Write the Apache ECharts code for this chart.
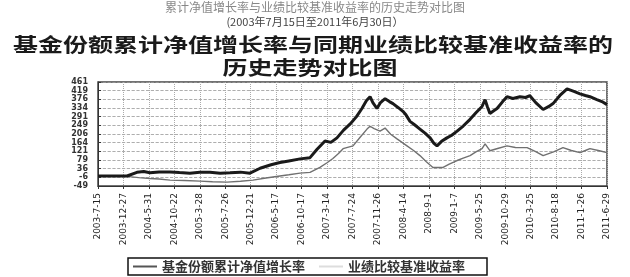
<!DOCTYPE html>
<html>
<head>
<meta charset="utf-8">
<script src="https://cdn.jsdelivr.net/npm/echarts@6/dist/echarts.min.js"></script>
<style>
  html, body { margin: 0; padding: 0; background: #fff; }
  #chart { width: 630px; height: 277px; }
</style>
</head>
<body>
<div id="chart"></div>
<script>
// ==================== 数据 ====================
// x 轴刻度（日期），等间距 21 个
const xLabels = [
  '2003-7-15', '2003-12-27', '2004-5-31', '2004-10-22', '2005-3-28',
  '2005-7-26', '2005-12-21', '2006-5-17', '2006-10-17', '2007-3-14',
  '2007-7-24', '2007-11-26', '2008-4-14', '2008-9-1', '2009-1-7',
  '2009-5-25', '2009-10-29', '2010-3-25', '2010-8-18', '2011-1-26',
  '2011-6-29'
]
// y 轴刻度（自下而上）
const yLabels = ['-49', '-6', '36', '79', '121', '164', '206', '249', '291', '334', '376', '419', '461']
const Y_BASE = 49      // 最低刻度 -49，对应坐标 0
const Y_STEP = 42.5

// 位置以 x 刻度序号计（0 ~ 20），数值单位 %
const fundPos = [0, 1.14, 1.53, 1.8, 2.04, 2.4, 2.83, 3.2, 3.61, 4.0, 4.4, 4.8, 5.19, 5.6, 5.97, 6.37,
  6.8, 7.15, 7.5, 7.94, 8.33, 8.6, 8.92, 9.15, 9.39, 9.65, 9.9, 10.15, 10.37, 10.55, 10.69, 10.8, 10.96,
  11.1, 11.28, 11.45, 11.59, 11.8, 11.98, 12.1, 12.26, 12.45, 12.65, 12.85, 13.05, 13.2, 13.32, 13.5,
  13.71, 13.9, 14.11, 14.35, 14.62, 14.85, 15.09, 15.21, 15.3, 15.4, 15.55, 15.68, 15.9, 16.07, 16.3,
  16.58, 16.8, 16.97, 17.2, 17.49, 17.7, 17.88, 18.15, 18.43, 18.7, 18.94, 19.15, 19.33, 19.6, 19.8, 20]
const fundValues = [0, 0, 18, 22, 16, 20, 20, 17, 14, 19, 18, 14, 16, 19, 14, 38,
  55, 66, 74, 84, 90, 130, 172, 165, 187, 225, 254, 290, 331, 370, 389, 360, 331,
  360, 379, 365, 355, 335, 317, 300, 268, 250, 230, 210, 187, 160, 148, 170,
  187, 200, 220, 245, 278, 310, 341, 374, 340, 307, 320, 331, 365, 389, 380,
  389, 385, 394, 360, 326, 340, 355, 395, 427, 415, 403, 395, 389, 375, 365, 350]

const benchPos = [0, 1.14, 1.6, 2.04, 2.4, 2.83, 3.4, 4.01, 4.5, 5.07, 5.6, 6.09, 6.6, 7.15, 7.5, 7.94,
  8.33, 8.72, 9.0, 9.23, 9.45, 9.63, 10.02, 10.3, 10.57, 10.69, 10.85, 11.08, 11.28, 11.5, 11.75, 12.14,
  12.4, 12.65, 12.9, 13.16, 13.56, 13.8, 14.11, 14.35, 14.62, 14.85, 15.09, 15.21, 15.4, 15.7, 16.07,
  16.4, 16.86, 17.2, 17.49, 17.9, 18.27, 18.6, 18.94, 19.15, 19.33, 19.7, 20]
const benchValues = [0, -2, -8, -12, -15, -20, -22, -25, -28, -30, -26, -20, -10, 0, 6, 14,
  18, 42, 65, 86, 110, 134, 148, 190, 230, 244, 232, 220, 235, 205, 182, 148,
  125, 100, 70, 42, 42, 58, 76, 88, 100, 118, 134, 158, 124, 135, 148,
  140, 139, 120, 100, 118, 139, 125, 115, 125, 134, 124, 115]

const seriesNames = ['基金份额累计净值增长率', '业绩比较基准收益率']

function toPoints(pos, values) {
  return pos.map((p, i) => [p, values[i] + Y_BASE])
}

const chart = echarts.init(document.getElementById('chart'))

chart.setOption({
  backgroundColor: '#fff',
  animation: false,
  title: [
    {
      text: '累计净值增长率与业绩比较基准收益率的历史走势对比图',
      left: 'center', top: -4,
      textStyle: { fontFamily: 'Noto Sans CJK SC', fontSize: 12, fontWeight: 'normal', color: '#888' }
    },
    {
      text: '(2003年7月15日至2011年6月30日）',
      left: 'center', top: 11,
      textStyle: { fontFamily: 'Noto Sans CJK SC', fontSize: 11, fontWeight: 'normal', color: '#444' }
    }
  ],
  // 大标题：纵向略压扁
  graphic: [
    {
      type: 'text', x: 313, y: 45, scaleY: 0.78, originY: 0,
      style: {
        text: '基金份额累计净值增长率与同期业绩比较基准收益率的',
        font: 'bold 25px "Noto Sans CJK SC"', fill: '#1a1a1a',
        align: 'center', verticalAlign: 'middle'
      }
    },
    {
      type: 'text', x: 310, y: 68, scaleY: 0.78, originY: 0,
      style: {
        text: '历史走势对比图',
        font: 'bold 25px "Noto Sans CJK SC"', fill: '#1a1a1a',
        align: 'center', verticalAlign: 'middle'
      }
    }
  ],
  legend: {
    left: 128, top: 258,
    padding: [2, 22, 2, 5],
    itemGap: 14,
    itemWidth: 24, itemHeight: 2,
    icon: 'rect',
    borderColor: '#111', borderWidth: 1.5,
    textStyle: { fontFamily: 'Noto Sans CJK SC', fontSize: 13, color: '#333', fontWeight: 'bold' },
    data: [
      { name: seriesNames[0], itemStyle: { color: '#555' } },
      { name: seriesNames[1], itemStyle: { color: '#ddd' } }
    ]
  },
  grid: {
    left: 98, right: 23, top: 82, bottom: 91,
    show: true, borderColor: '#444', borderWidth: 1.5
  },
  xAxis: {
    type: 'value',
    min: 0, max: xLabels.length - 1, interval: 1,
    offset: 4,
    axisLine: { show: true, lineStyle: { color: '#333', width: 1 } },
    axisTick: { show: true, length: 3, lineStyle: { color: '#333' } },
    axisLabel: {
      rotate: 90, margin: 3,
      fontFamily: 'DejaVu Sans', fontSize: 9, color: '#222',
      formatter: (v) => xLabels[Math.round(v)] || ''
    },
    splitLine: { show: true, lineStyle: { color: '#aaa', type: 'dotted', width: 1 } }
  },
  yAxis: {
    type: 'value',
    min: 0, max: (yLabels.length - 1) * Y_STEP, interval: Y_STEP,
    offset: 5,
    axisLine: { show: true, lineStyle: { color: '#333', width: 1 } },
    axisTick: { show: true, inside: true, length: 3, lineStyle: { color: '#333' } },
    axisLabel: {
      margin: 5,
      fontFamily: 'DejaVu Sans', fontSize: 8, fontWeight: 'bold', color: '#333',
      formatter: (v) => yLabels[Math.round(v / Y_STEP)] || ''
    },
    splitLine: { show: true, lineStyle: { color: '#999', type: 'dashed', width: 0.8 } }
  },
  series: [
    {
      name: seriesNames[0],
      type: 'line',
      data: toPoints(fundPos, fundValues),
      showSymbol: false,
      lineStyle: { color: '#1a1a1a', width: 3 },
      z: 3
    },
    {
      name: seriesNames[1],
      type: 'line',
      data: toPoints(benchPos, benchValues),
      showSymbol: false,
      lineStyle: { color: '#707070', width: 1.4 },
      z: 2
    }
  ]
})
</script>
</body>
</html>
